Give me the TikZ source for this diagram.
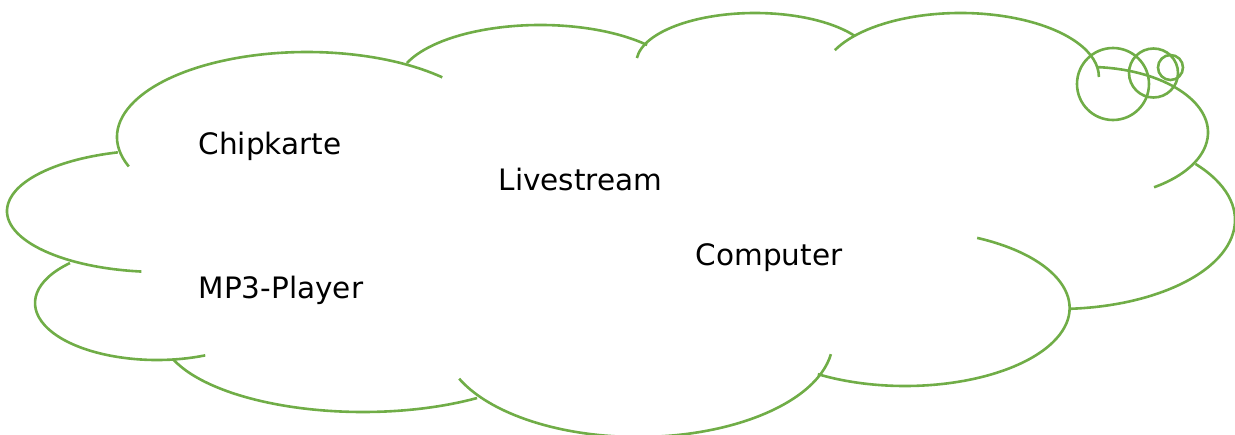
\documentclass[tikz,border=0pt]{standalone}
\usepackage{fontspec}
\setmainfont{DejaVu Sans}
\definecolor{cloudgreen}{RGB}{112,173,71}
\newcommand\cloudlobe[6]{\draw[lobe] (#1,#2) ++(#5:#3 and #4) arc[start angle=#5, end angle=#6, x radius=#3, y radius=#4];}
\begin{document}
\begin{tikzpicture}[x=1pt,y=-1pt,
  lobe/.style={draw=cloudgreen, line width=2.6pt},
  word/.style={font=\fontsize{29.5}{35}\selectfont, inner sep=0pt, anchor=base west, text=black}]
\useasboundingbox (0,0) rectangle (1235,434);
% cloud lobes: centre x, centre y, x radius, y radius, start, end
\cloudlobe{307}{137}{190}{85}{159.7}{315.4}
\cloudlobe{540.3}{85}{143.3}{60}{201.5}{318.2}
\cloudlobe{755}{63}{118.7}{50}{185.7}{327.3}
\cloudlobe{960.5}{77}{138.4}{64}{204.8}{360}
\cloudlobe{1088}{132.5}{120}{65.6}{274.8}{416.6}
\cloudlobe{1058}{220}{177}{89}{-39}{86}
\cloudlobe{905}{308}{164.6}{78}{-64}{122}
\cloudlobe{638}{340}{195}{97}{8.4}{156.5}
\cloudlobe{363}{332}{202}{80}{55.6}{159.5}
\cloudlobe{157}{303}{122}{57}{66.7}{224.5}
\cloudlobe{160}{211}{153}{61}{97}{254}
% callout bubbles
\draw[lobe] (1113,84) circle[radius=36];
\draw[lobe] (1153.5,73) circle[radius=24.5];
\draw[lobe] (1170.5,67.5) circle[radius=12.5];
% labels
\node[word] (chip) at (198.5,154) {Chipkarte};
\node[word] (live) at (498.5,190) {Livestream};
\node[word] (comp) at (695.5,265) {Computer};
\node[word] (mp3) at (198.5,298) {MP3-Player};
\end{tikzpicture}
\end{document}
